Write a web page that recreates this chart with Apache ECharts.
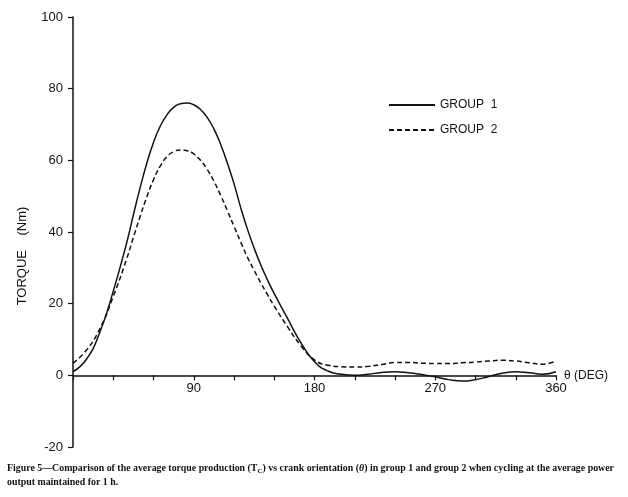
<!DOCTYPE html>
<html>
<head>
<meta charset="utf-8">
<script src="https://cdn.jsdelivr.net/npm/echarts@6/dist/echarts.min.js"></script>
<style>
html,body{margin:0;padding:0;background:#fff;}
#chart{width:628px;height:497px;}
</style>
</head>
<body>
<div id="chart"></div>
<script>
// Crank angle (degrees)
const theta = [0,10,20,30,40,45,50,55,60,65,70,75,80,85,90,95,100,105,110,115,120,125,130,135,140,145,150,160,170,180,190,200,210,220,230,240,250,260,270,280,290,300,310,320,330,340,350,360];
// Torque (Nm), group 1 (solid)
const group1 = [1,4.5,12,23.5,37,44.8,52.3,59.2,65,69.5,72.7,74.8,75.8,76,75.5,74.2,72,68.8,64.5,59.3,53.5,46.8,40.8,35.5,30.8,26.6,22.8,15.8,9,3.8,1.2,0.3,0,0.3,0.8,1,0.7,0.2,-0.4,-1.2,-1.6,-1.2,-0.3,0.6,1,0.7,0.3,1];
// Torque (Nm), group 2 (dashed)
const group2 = [3.4,7,13,22,32.5,38.5,44.3,49.8,54.6,58.4,61,62.4,62.9,62.7,61.8,60,57.5,54.2,50.3,46,41.6,37.2,33,29.3,25.8,22.5,19.3,13.5,8.2,4.3,2.8,2.4,2.3,2.5,3,3.6,3.6,3.4,3.3,3.3,3.5,3.7,4,4.2,4,3.5,3.1,4];
const seriesNames = ['GROUP  1','GROUP  2'];
const yTicks = {min:-20, max:100, step:20};
const xTicks = {min:0, max:360, step:30, labelEvery:90};

const gridTop = 17, gridBottom = 50, chartH = 497;
const plotH = chartH - gridTop - gridBottom;
// raise the x axis from the grid bottom up to the y = 0 level
const xAxisOffset = -plotH * (0 - yTicks.min) / (yTicks.max - yTicks.min);

const chart = echarts.init(document.getElementById('chart'));
const pts = arr => theta.map((t,i)=>[t,arr[i]]);
const axisFont = {fontFamily:'Liberation Sans, Arial, sans-serif', fontSize:13, color:'#111'};
const lineCol = '#111';

chart.setOption({
  animation:false,
  backgroundColor:'#fff',
  grid:{left:73, right:72, top:gridTop, bottom:gridBottom},
  legend:{
    orient:'vertical', left:383, top:94, itemGap:13,
    itemWidth:46, itemHeight:10,
    itemStyle:{opacity:0},
    textStyle:{fontFamily:'Liberation Sans, Arial, sans-serif', fontSize:12, color:'#111'},
    data:seriesNames
  },
  xAxis:{
    type:'value', min:xTicks.min, max:xTicks.max, interval:xTicks.step,
    position:'bottom', offset:xAxisOffset,
    axisLine:{onZero:false, lineStyle:{color:lineCol, width:1.5}},
    splitLine:{show:false},
    name:'θ (DEG)', nameLocation:'end', nameGap:8,
    nameTextStyle:{fontFamily:'Liberation Sans, Arial, sans-serif', fontSize:12, color:'#111', verticalAlign:'middle'},
    axisTick:{show:true, length:5, lineStyle:{color:lineCol, width:1.2}},
    axisLabel:Object.assign({}, axisFont, {margin:7, formatter:v => (v>0 && v%xTicks.labelEvery===0) ? String(v) : ''})
  },
  yAxis:{
    type:'value', min:yTicks.min, max:yTicks.max, interval:yTicks.step,
    position:'left',
    axisLine:{show:true, onZero:false, lineStyle:{color:lineCol, width:1.5}},
    splitLine:{show:false},
    axisTick:{show:true, length:5, lineStyle:{color:lineCol, width:1.2}},
    axisLabel:Object.assign({}, axisFont, {margin:10})
  },
  graphic:[
    {type:'text', x:22, y:256, rotation:Math.PI/2,
     style:{text:'TORQUE    (Nm)', font:'13px "Liberation Sans", Arial, sans-serif', fill:'#111', textAlign:'center', textVerticalAlign:'middle'}},
    {type:'text', x:7, y:461,
     style:{
       rich:{
         b:{fontFamily:'Liberation Serif, Times New Roman, serif', fontWeight:'bold', fontSize:9.9, fill:'#111'},
         s:{fontFamily:'Liberation Serif, Times New Roman, serif', fontWeight:'bold', fontSize:7, fill:'#111', verticalAlign:'bottom', padding:[4,0,0,0]},
         i:{fontFamily:'Liberation Serif, Times New Roman, serif', fontStyle:'italic', fontWeight:'bold', fontSize:9.9, fill:'#111'}
       },
       text:'{b|Figure 5—Comparison of the average torque production (T}{s|C}{b|) vs crank orientation (}{i|θ}{b|) in group 1 and group 2 when cycling at the average power}\n{b|output maintained for 1 h.}',
       lineHeight:14
     }}
  ],
  series:[
    {name:seriesNames[0], type:'line', data:pts(group1), smooth:0.5, showSymbol:false, symbol:'none',
     lineStyle:{color:lineCol, width:1.5, type:'solid'}, itemStyle:{color:lineCol}},
    {name:seriesNames[1], type:'line', data:pts(group2), smooth:0.5, showSymbol:false, symbol:'none',
     lineStyle:{color:lineCol, width:1.5, type:[5,3]}, itemStyle:{color:lineCol}}
  ]
});
</script>
</body>
</html>
